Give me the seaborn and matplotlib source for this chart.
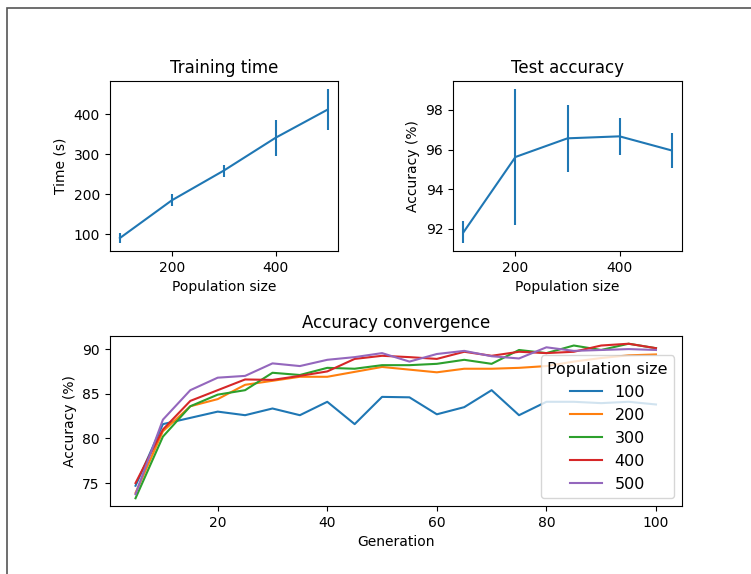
import numpy as np
import pandas as pd
import matplotlib
matplotlib.use('Agg')
import matplotlib.pyplot as plt
from matplotlib.patches import Rectangle
import seaborn as sns

# population sizes tested
pop_sizes = [100, 200, 300, 400, 500]
pop_ticks = [200, 400]

# training time (s), mean and std
train_time = [91, 185, 259, 341, 411]
train_time_err = [13, 15, 15, 45, 52]

# test accuracy (%), mean and std
test_acc = [91.83, 95.63, 96.57, 96.67, 95.96]
test_acc_err = [0.55, 3.44, 1.7, 0.94, 0.9]

# accuracy over generations for each population size
generations = [5, 10, 15, 20, 25, 30, 35, 40, 45, 50,
               55, 60, 65, 70, 75, 80, 85, 90, 95, 100]
acc_100 = [74.7, 81.6, 82.3, 83.0, 82.6, 83.35, 82.6, 84.1, 81.6, 84.65,
           84.6, 82.7, 83.5, 85.4, 82.6, 84.1, 84.1, 83.95, 84.1, 83.8]
acc_200 = [73.9, 80.8, 83.6, 84.4, 86.0, 86.45, 86.9, 86.9, 87.45, 88.0,
           87.7, 87.4, 87.8, 87.8, 87.9, 88.1, 88.6, 89.0, 89.3, 89.4]
acc_300 = [73.3, 80.2, 83.6, 84.9, 85.4, 87.35, 87.1, 87.9, 87.8, 88.2,
           88.2, 88.35, 88.8, 88.35, 89.9, 89.55, 90.4, 89.9, 90.6, 90.1]
acc_400 = [75.0, 81.0, 84.2, 85.4, 86.6, 86.55, 87.0, 87.5, 88.9, 89.25,
           89.1, 88.9, 89.7, 89.25, 89.7, 89.55, 89.7, 90.4, 90.6, 90.1]
acc_500 = [73.75, 82.1, 85.4, 86.8, 87.0, 88.4, 88.1, 88.8, 89.1, 89.55,
           88.6, 89.45, 89.8, 89.2, 88.95, 90.2, 89.8, 89.9, 90.0, 89.9]

conv = pd.DataFrame({
    'Generation': generations * 5,
    'Accuracy': acc_100 + acc_200 + acc_300 + acc_400 + acc_500,
    'Population size': [str(p) for p in pop_sizes for _ in generations],
})

palette = sns.color_palette('tab10')

fig = plt.figure(figsize=(7.51, 5.74), dpi=100)
W, H = 751, 574

def px_axes(l, t, r, b):
    return fig.add_axes([l / W, 1 - b / H, (r - l) / W, (b - t) / H])

ax1 = px_axes(109.5, 81, 338, 251)
ax2 = px_axes(453, 81, 682, 251)
ax3 = px_axes(109.5, 336, 682, 506)

# training time
ax1.errorbar(pop_sizes, train_time, yerr=train_time_err, color=palette[0])
ax1.set_xticks(pop_ticks)
ax1.set_title('Training time')
ax1.set_xlabel('Population size')
ax1.set_ylabel('Time (s)')

# test accuracy
ax2.errorbar(pop_sizes, test_acc, yerr=test_acc_err, color=palette[0])
ax2.set_xticks(pop_ticks)
ax2.set_title('Test accuracy')
ax2.set_xlabel('Population size')
ax2.set_ylabel('Accuracy (%)')

# convergence
sns.lineplot(data=conv, x='Generation', y='Accuracy', hue='Population size',
             palette=palette[:5], ax=ax3)
ax3.set_title('Accuracy convergence')
ax3.set_xlabel('Generation')
ax3.set_ylabel('Accuracy (%)')
ax3.legend(title='Population size', loc='lower right', fontsize=11.5, title_fontsize=11.5)

# screenshot frame at top/left
fig.add_artist(Rectangle((7 / W, -0.5), 2, 1.5 - 7.5 / H, transform=fig.transFigure,
                         fill=False, edgecolor='#555555', lw=1.2))

fig.savefig('out.png', dpi=100)
